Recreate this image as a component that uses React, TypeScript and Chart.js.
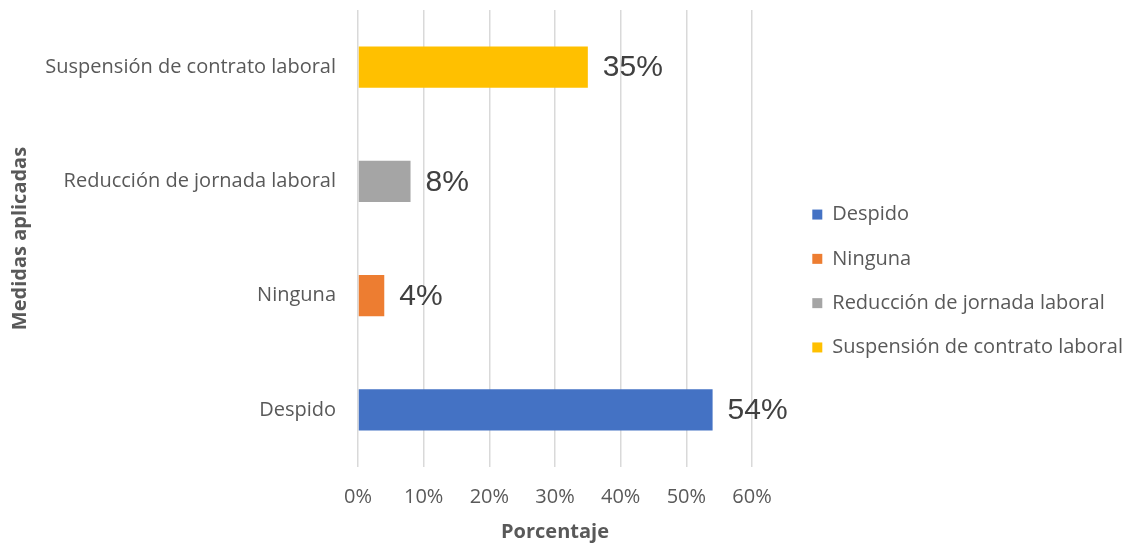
import React, { useEffect, useRef } from "react";
import { Chart, registerables } from "chart.js";

Chart.register(...registerables);

const categories = ["Despido", "Ninguna", "Reducción de jornada laboral", "Suspensión de contrato laboral"];
const values = [54, 4, 8, 35];
const colors = ["#4472C4", "#ED7D31", "#A5A5A5", "#FFC000"];
const xTicks = [0, 10, 20, 30, 40, 50, 60];
const xTitle = "Porcentaje";
const yTitle = "Medidas aplicadas";

const FONT = "'Open Sans', 'Noto Sans', sans-serif";

const valueLabels = {
  id: "valueLabels",
  afterDatasetsDraw(chart: any) {
    const ctx = chart.ctx;
    ctx.save();
    ctx.font = "30px 'Liberation Sans', Arial, sans-serif";
    ctx.fillStyle = "#404040";
    ctx.textBaseline = "middle";
    ctx.textAlign = "left";
    chart.data.datasets.forEach((ds: any, di: number) => {
      const meta = chart.getDatasetMeta(di);
      meta.data.forEach((el: any, i: number) => {
        const v = ds.data[i];
        if (v === null || v === undefined) return;
        ctx.fillText(v + "%", el.x + 15, el.y + 1);
      });
    });
    ctx.restore();
  },
};

const legendGap = {
  id: "legendGap",
  afterLayout(chart: any) {
    const lg = chart.legend;
    if (!lg) return;
    const shift = chart.chartArea.right + 36 - lg.left;
    lg.left += shift;
    lg.right += shift;
    lg.top += 3;
    lg.bottom += 3;
  },
};

export default function App() {
  const ref = useRef<HTMLCanvasElement>(null);
  useEffect(() => {
    if (!ref.current) return;
    const datasets = categories.map((c, i) => ({
      label: c,
      data: categories.map((_, j) => (j === i ? values[i] : null)),
      backgroundColor: colors[i],
      borderWidth: 0,
      barPercentage: 0.36,
      categoryPercentage: 1,
      grouped: false,
    }));
    const chart = new Chart(ref.current, {
      type: "bar",
      data: { labels: categories, datasets: datasets as any },
      plugins: [valueLabels, legendGap],
      options: {
        indexAxis: "y",
        animation: false,
        responsive: false,
        maintainAspectRatio: false,
        layout: { padding: { top: 10, left: 0, right: 0, bottom: 0 } },
        plugins: {
          tooltip: { enabled: false },
          legend: {
            position: "right",
            align: "center",
            maxWidth: 420,
            labels: {
              boxWidth: 10,
              boxHeight: 10,
              padding: 24.3,
              color: "#595959",
              font: { family: FONT, size: 20 },
            },
          },
        },
        scales: {
          x: {
            min: 0,
            max: 60,
            afterBuildTicks(axis: any) {
              axis.ticks = xTicks.map((v) => ({ value: v }));
            },
            afterFit(scale: any) {
              scale.height = 79;
              scale.paddingRight = 386;
            },
            ticks: {
              callback: (v: any) => v + "%",
              color: "#595959",
              font: { family: FONT, size: 20 },
              padding: 18,
              maxRotation: 0,
            },
            grid: { color: "#D9D9D9", lineWidth: 1.5, drawTicks: false },
            border: { display: false },
            title: {
              display: true,
              text: xTitle,
              color: "#595959",
              font: { family: FONT, size: 20, weight: "bold" },
              padding: { top: 4, bottom: 2 },
            },
          },
          y: {
            reverse: true,
            afterFit(scale: any) {
              scale.width = 358;
              scale.paddingTop = 0;
              scale.paddingBottom = 0;
            },
            ticks: {
              color: "#595959",
              font: { family: FONT, size: 20 },
              padding: 22,
            },
            grid: { display: false, drawTicks: false },
            border: { display: false },
            title: {
              display: true,
              text: yTitle,
              color: "#595959",
              font: { family: FONT, size: 20, weight: "bold" },
              padding: { top: 8, bottom: 4 },
            },
          },
        },
      },
    });
    return () => chart.destroy();
  }, []);
  return (
    <div style={{ position: "fixed", left: 0, top: 0, width: 1138, height: 546, background: "#fff" }}>
      <canvas ref={ref} width={1138} height={546} />
    </div>
  );
}
